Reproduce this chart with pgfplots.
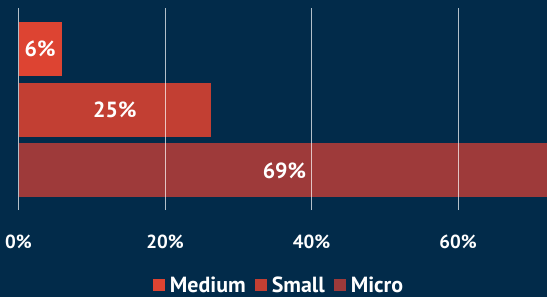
\documentclass[border=0pt]{standalone}
\usepackage{fontspec}
\setmainfont{PT Sans}
\usepackage{pgfplots}
\pgfplotsset{compat=1.18}
\definecolor{bg}{HTML}{022B4A}
\definecolor{cMed}{HTML}{DD4432}
\definecolor{cSmall}{HTML}{C23F33}
\definecolor{cMicro}{HTML}{9E3A3A}
\begin{document}
\begin{tikzpicture}
\fill[bg] (-18.5bp,-87bp) rectangle (528.5bp,210bp);
\begin{axis}[
  at={(0,0)}, anchor=south west,
  scale only axis, width=528.5bp, height=202bp,
  xmin=0, xmax=72.15, ymin=-0.653, ymax=2.678,
  axis line style={draw=none},
  ytick=\empty,
  xtick={0,20,40,60},
  xticklabels={0\%,20\%,40\%,60\%},
  major tick length=0pt,
  xmajorgrids,
  grid style={white, opacity=0.7, line width=1bp},
  axis on top,
  /pgf/number format/assume math mode=true,
  xticklabel style={font=\fontsize{19}{19}\selectfont\bfseries, text=white, anchor=center, yshift=-32bp},
  legend columns=3,
  legend style={at={(axis description cs:0.493,0)}, anchor=center, yshift=-75bp,
    draw=none, fill=none, text=white, font=\fontsize{22}{22}\selectfont\bfseries,
    /tikz/every even column/.append style={column sep=8bp},
    nodes={inner sep=1.5bp}},
  legend image code/.code={\path (0bp,0bp) (15bp,0bp); \fill[#1] (0bp,-6bp) rectangle (12bp,6bp);},
]
\addplot[xbar, bar width=0.893, bar shift=0pt, fill=cMed, draw=none] coordinates {(5.9,2)};
\addlegendentry{Medium}
\addplot[xbar, bar width=0.893, bar shift=0pt, fill=cSmall, draw=none] coordinates {(26.3,1)};
\addlegendentry{Small}
\addplot[xbar, bar width=0.893, bar shift=0pt, fill=cMicro, draw=none] coordinates {(72.6,0)};
\addlegendentry{Micro}
\addplot[forget plot, draw=none, mark=none, nodes near coords, point meta=explicit symbolic,
  nodes near coords style={anchor=center, text=white, font=\fontsize{22}{22}\selectfont\bfseries}]
  coordinates {(2.95,2)[6\%] (13.15,1)[25\%] (36.3,0)[69\%]};
\end{axis}
\pgfresetboundingbox
\path[use as bounding box] (-18.5bp,-87bp) rectangle (528.5bp,210bp);
\end{tikzpicture}
\end{document}
